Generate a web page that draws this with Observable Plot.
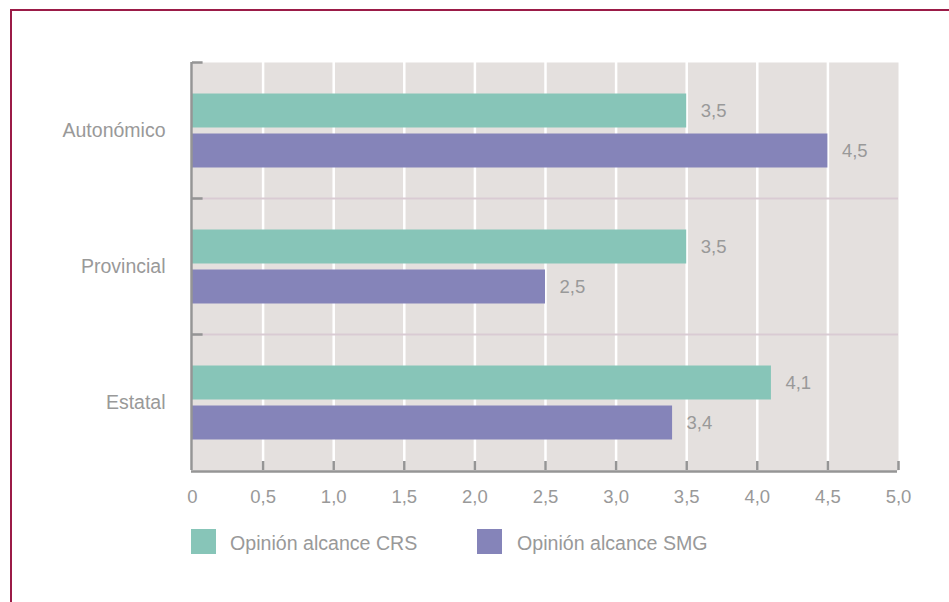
<!DOCTYPE html>
<html><head><meta charset="utf-8">
<script src="https://cdn.jsdelivr.net/npm/d3@7"></script>
<script src="https://cdn.jsdelivr.net/npm/@observablehq/plot@0.6"></script>
<style>
body{margin:0;background:#fff;overflow:hidden}
#wrap{position:relative;width:949px;height:602px;overflow:hidden;font-family:"Liberation Sans",Arial,sans-serif}
#border{position:absolute;left:10px;top:9px;width:1200px;height:800px;border-top:2px solid #9b1b47;border-left:2px solid #9b1b47}
#chart{position:absolute;left:0;top:0}
#legend{position:absolute;top:528px;left:0;width:949px;height:30px}
.item{position:absolute;top:0;display:flex;align-items:center;white-space:nowrap;font-size:19.6px;color:#999}
.sw{width:25px;height:25px;flex:none}
.lt{padding-top:4px}
</style>
</head><body>
<div id="wrap">
<div id="border"></div>
<div id="chart"></div>
<div id="legend"></div>
</div>
<script>
const categories = ["Autonómico", "Provincial", "Estatal"];
const crsValues = [3.5, 3.5, 4.1];
const smgValues = [4.5, 2.5, 3.4];
const seriesNames = ["Opinión alcance CRS", "Opinión alcance SMG"];
const seriesColors = ["#87c5b8", "#8584b9"];
const xTicks = [0, 0.5, 1, 1.5, 2, 2.5, 3, 3.5, 4, 4.5, 5];

const fmt = d => d === 0 ? "0" : d.toFixed(1).replace(".", ",");
const crs = categories.map((c, i) => ({cat: c, v: crsValues[i]}));
const smg = categories.map((c, i) => ({cat: c, v: smgValues[i]}));
const axisGray = "#959595";
const textGray = "#999999";
const font = '"Liberation Sans",Arial,sans-serif';

const chart = Plot.plot({
  width: 949, height: 520,
  marginTop: 62, marginBottom: 50, marginLeft: 192, marginRight: 51,
  style: {fontFamily: font, fontSize: "18px", color: textGray, background: "transparent", overflow: "visible"},
  x: {domain: [0, 5]},
  y: {domain: categories, padding: 0},
  marks: [
    Plot.frame({fill: "#e4e0de", stroke: null}),
    Plot.ruleX(xTicks.slice(1, -1), {x: d => d, stroke: "#ffffff", strokeWidth: 2.5}),
    Plot.ruleY(categories.slice(1), {y: d => d, dy: -68, stroke: "#d9cbd3", strokeWidth: 2}),
    Plot.barX(crs, {y: "cat", x: "v", fill: seriesColors[0], insetTop: 31.5, insetBottom: 70.5}),
    Plot.barX(smg, {y: "cat", x: "v", fill: seriesColors[1], insetTop: 71.5, insetBottom: 30.5}),
    Plot.text(crs, {y: "cat", x: "v", text: d => fmt(d.v), dx: 14, dy: -19.5, textAnchor: "start", fill: textGray, fontSize: 18.5}),
    Plot.text(smg, {y: "cat", x: "v", text: d => fmt(d.v), dx: 14, dy: 20.5, textAnchor: "start", fill: textGray, fontSize: 18.5}),
    Plot.axisX({ticks: xTicks, tickFormat: fmt, tickSize: 0, tickPadding: 19, fontSize: 18.5, label: null}),
    Plot.axisY({tickSize: 0, tickPadding: 27, fontSize: 19.5, label: null}),
    Plot.ruleX([0], {x: d => d, dx: -1, stroke: axisGray, strokeWidth: 2.5}),
    Plot.ruleY([categories[categories.length - 1]], {y: d => d, dy: 69, x1: 0, x2: 5, dx: -1, stroke: axisGray, strokeWidth: 2.5}),
    Plot.ruleY(categories, {y: d => d, dy: -68, x1: 0, x2: 0.075, stroke: axisGray, strokeWidth: 2.5}),
    Plot.tickX(xTicks.slice(1), {x: d => d, insetTop: 399, stroke: axisGray, strokeWidth: 2.5})
  ]
});
document.getElementById("chart").appendChild(chart);

const legend = document.getElementById("legend");
const legendLeft = [191, 477];
seriesNames.forEach((name, i) => {
  const item = document.createElement("div");
  item.className = "item";
  item.style.left = legendLeft[i] + "px";
  const sw = document.createElement("div");
  sw.className = "sw";
  sw.style.background = seriesColors[i];
  sw.style.marginRight = (i === 0 ? 14 : 15) + "px";
  const t = document.createElement("span");
  t.className = "lt";
  t.textContent = name;
  item.appendChild(sw);
  item.appendChild(t);
  legend.appendChild(item);
});
</script>
</body></html>
